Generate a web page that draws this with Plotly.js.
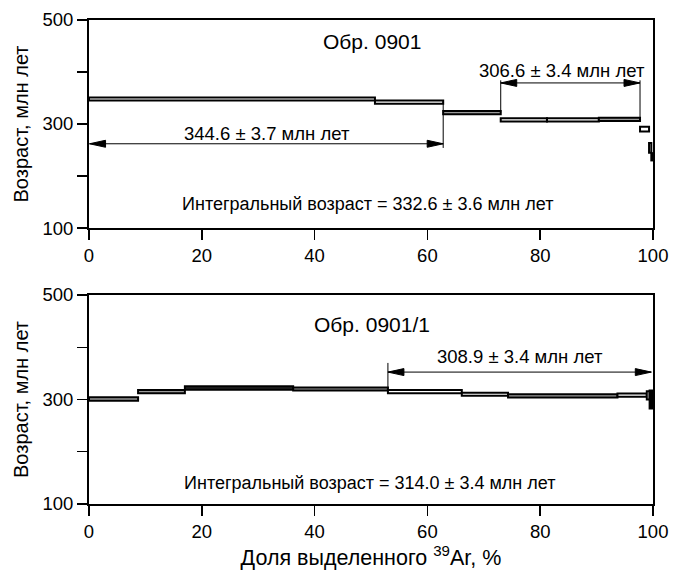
<!DOCTYPE html>
<html><head><meta charset="utf-8">
<script src="https://cdn.plot.ly/plotly-3.0.1.min.js"></script>
<style>html,body{margin:0;padding:0;background:#fff}</style>
</head><body><div id="chart" style="width:679px;height:573px"></div>
<script>
// ---- data: sample 0901 (top) ----
const topEdges = [0, 50.7, 62.8, 73.0, 81.2, 90.4, 97.7, 99.3, 99.7, 100];
const topAges  = [348, 342, 322, 308, 308, 309, 290, 254, 237];
const topErrs  = [3, 3, 3, 3, 3, 3, 4.5, 9.5, 7];
const topPlateaus = [[0, 2, '344.6 ± 3.7 млн лет'], [3, 6, '306.6 ± 3.4 млн лет']];
const topSample = 'Обр. 0901';
const topIntegral = 'Интегральный возраст = 332.6 ± 3.6 млн лет';

// ---- data: sample 0901/1 (bottom) ----
const botEdges = [0, 8.7, 17.0, 36.2, 53.0, 66.1, 74.3, 93.7, 98.9, 99.4, 100];
const botAges  = [301, 315, 322, 320, 315, 310, 307, 308.5, 308, 300];
const botErrs  = [3.5, 3, 3.5, 3, 3, 3, 3, 3, 8, 17];
const botPlateaus = [[4, 10, '308.9 ± 3.4 млн лет']];
const botSample = 'Обр. 0901/1';
const botIntegral = 'Интегральный возраст = 314.0 ± 3.4 млн лет';

const xTicks = [0, 20, 40, 60, 80, 100];
const yTicks = [100, 300, 500];      // labelled ticks
const yMinorStep = 100;              // unlabelled ticks every 100

// ---- style (not data) ----
const G = '#9a9a9a';
const topFills = ['#fff', '#fff', G, '#fff', '#fff', G, '#fff', '#fff', '#000'];
const botFills = [G, G, '#222', G, '#fff', '#fff', G, '#fff', '#fff', '#000'];
const FONT = 'Liberation Sans, Arial, Helvetica, sans-serif';

function stepTrace(edges, ages, errs, fills, xa, ya) {
  const x = [], w = [], base = [], h = [];
  for (let i = 0; i < ages.length; i++) {
    x.push((edges[i] + edges[i + 1]) / 2);
    w.push(edges[i + 1] - edges[i]);
    base.push(ages[i] - errs[i]);
    h.push(2 * errs[i]);
  }
  return {type: 'bar', x: x, y: h, base: base, width: w, xaxis: xa, yaxis: ya,
    marker: {color: fills, line: {color: '#000', width: 2}},
    hoverinfo: 'skip', showlegend: false};
}

const traces = [
  stepTrace(topEdges, topAges, topErrs, topFills, 'x', 'y'),
  stepTrace(botEdges, botAges, botErrs, botFills, 'x2', 'y2')
];

const annotations = [];
const shapes = [];
function txt(text, x, y, xr, yr, size) {
  annotations.push({text: text, x: x, y: y, xref: xr, yref: yr, showarrow: false,
    xanchor: 'center', yanchor: 'middle', font: {family: FONT, size: size, color: '#000'}});
}
function head(x, y, dir, xr, yr) {
  const L = 16 * dir, W = 3.5;
  shapes.push({type: 'path', xref: xr, yref: yr, xsizemode: 'pixel', ysizemode: 'pixel',
    xanchor: x, yanchor: y, path: 'M0,0 L' + (-L) + ',' + W + ' L' + (-L) + ',' + (-W) + ' Z',
    fillcolor: '#000', line: {color: '#000', width: 1}});
}
function arrow(x0, x1, y, xr, yr) {
  shapes.push({type: 'line', xref: xr, yref: yr, x0: x0, x1: x1, y0: y, y1: y,
    line: {color: '#000', width: 1}});
  head(x1, y, 1, xr, yr);
  head(x0, y, -1, xr, yr);
}
function vline(x, y0, y1, xr, yr) {
  shapes.push({type: 'line', xref: xr, yref: yr, x0: x, x1: x, y0: y0, y1: y1,
    line: {color: '#000', width: 1}});
}

// top panel
txt(topSample, 50.1, 459, 'x', 'y', 21);
txt(topIntegral, 49.3, 146, 'x', 'y', 18);
{
  const p1 = topPlateaus[0], p2 = topPlateaus[1];
  const a1 = topEdges[p1[0]], b1 = topEdges[p1[1]];
  arrow(a1 + 0.1, b1, 262, 'x', 'y');
  vline(b1, topAges[p1[1] - 1], 254, 'x', 'y');
  txt(p1[2], 31.5, 281, 'x', 'y', 18.5);
  const a2 = topEdges[p2[0]], b2 = topEdges[p2[1]];
  arrow(a2, b2, 379, 'x', 'y');
  vline(a2, 384, topAges[p2[0] - 1], 'x', 'y');
  vline(b2, 384, topAges[p2[1] - 1], 'x', 'y');
  txt(p2[2], 83.9, 402, 'x', 'y', 18.5);
}
// bottom panel
txt(botSample, 50.2, 443, 'x2', 'y2', 21);
txt(botIntegral, 49.8, 140, 'x2', 'y2', 18);
{
  const p = botPlateaus[0];
  const a = botEdges[p[0]], b = botEdges[p[1]];
  arrow(a, b - 0.3, 352.5, 'x2', 'y2');
  vline(a, 370, botAges[p[0] - 1], 'x2', 'y2');
  txt(p[2], 76.4, 382, 'x2', 'y2', 18.5);
}

const tickFont = {family: FONT, size: 18.5, color: '#000'};
const titleFont = {family: FONT, size: 20, color: '#000'};
const xBase = {range: [0, 100], tickvals: xTicks, ticks: 'outside', ticklen: 10, tickwidth: 1.5,
  tickcolor: '#000', showline: true, linewidth: 2, linecolor: '#000', mirror: true,
  showgrid: false, zeroline: false, tickfont: tickFont, ticklabelstandoff: 0, fixedrange: true};
const yBase = {range: [100, 500], tickmode: 'array', tickvals: yTicks, ticks: 'outside', ticklen: 10,
  tickwidth: 1.5, tickcolor: '#000', showline: true, linewidth: 2, linecolor: '#000', mirror: true,
  showgrid: false, zeroline: false, tickfont: tickFont, fixedrange: true,
  minor: {tick0: 100, dtick: yMinorStep, ticks: 'outside', ticklen: 10, tickwidth: 1.5,
    tickcolor: '#000', showgrid: false},
  title: {text: 'Возраст, млн лет', font: titleFont, standoff: 8}};

const layout = {
  width: 679, height: 573,
  margin: {l: 89, r: 26, t: 20, b: 69},
  paper_bgcolor: '#fff', plot_bgcolor: '#fff',
  barmode: 'overlay', showlegend: false,
  font: {family: FONT, size: 18, color: '#000'},
  xaxis: Object.assign({}, xBase, {anchor: 'y', domain: [0, 1]}),
  yaxis: Object.assign({}, yBase, {anchor: 'x', domain: [0.5702, 1]}),
  xaxis2: Object.assign({}, xBase, {anchor: 'y2', domain: [0, 1],
    title: {text: 'Доля выделенного <sup>39</sup>Ar, %', font: {family: FONT, size: 21.5, color: '#000'}, standoff: 8}}),
  yaxis2: Object.assign({}, yBase, {anchor: 'x2', domain: [0, 0.4318]}),
  annotations: annotations,
  shapes: shapes
};

Plotly.newPlot('chart', traces, layout, {displayModeBar: false, staticPlot: true});
</script>
</body></html>
